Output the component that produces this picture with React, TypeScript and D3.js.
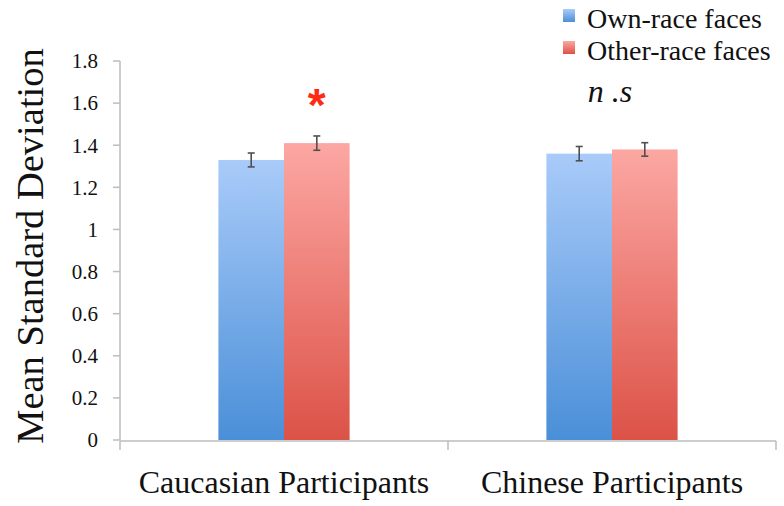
import React from "react";
import * as d3 from "d3";

const categories = ["Caucasian Participants", "Chinese Participants"];
const seriesNames = ["Own-race faces", "Other-race faces"];
const ownRace = [1.33, 1.36];
const otherRace = [1.41, 1.38];
const ownRaceErr = [0.033, 0.034];
const otherRaceErr = [0.034, 0.032];
const significance = ["*", "n .s"];
const yTicks = [0, 0.2, 0.4, 0.6, 0.8, 1, 1.2, 1.4, 1.6, 1.8];

const W = 784;
const H = 506;
const plot = { left: 120, right: 776, top: 61, bottom: 440 };

const serif = { fontFamily: '"Liberation Serif"' };
const sans = { fontFamily: '"Liberation Sans"' };

export default function App() {
  const x = d3
    .scaleBand<string>()
    .domain(categories)
    .range([plot.left, plot.right])
    .paddingInner(0.6)
    .paddingOuter(0.3);
  const inner = d3
    .scaleBand<number>()
    .domain([0, 1])
    .range([0, x.bandwidth()]);
  const y = d3.scaleLinear().domain([0, 1.8]).range([plot.bottom, plot.top]);

  const series = [
    { values: ownRace, errs: ownRaceErr, fill: "url(#gradBlue)" },
    { values: otherRace, errs: otherRaceErr, fill: "url(#gradRed)" },
  ];

  const step = (plot.right - plot.left) / categories.length;
  const xTickPositions = d3.range(categories.length + 1).map((i) => plot.left + i * step);
  const axisColor = "#bdbdbd";

  return (
    <svg
      width={W}
      height={H}
      style={{ position: "absolute", left: 0, top: 0, background: "#fff" }}
    >
      <defs>
        <linearGradient id="gradBlue" x1="0" y1="0" x2="0" y2="1">
          <stop offset="0%" stopColor="#a9cbf9" />
          <stop offset="100%" stopColor="#4a8fd8" />
        </linearGradient>
        <linearGradient id="gradRed" x1="0" y1="0" x2="0" y2="1">
          <stop offset="0%" stopColor="#fca7a3" />
          <stop offset="100%" stopColor="#dc5247" />
        </linearGradient>
      </defs>

      {/* y axis */}
      <line x1={plot.left} x2={plot.left} y1={y(1.8)} y2={plot.bottom} stroke={axisColor} strokeWidth={1.5} />
      {yTicks.map((t) => (
        <g key={t}>
          <line x1={plot.left - 7} x2={plot.left} y1={y(t)} y2={y(t)} stroke={axisColor} strokeWidth={1.5} />
          <text
            x={98}
            y={y(t)}
            dy="0.35em"
            textAnchor="end"
            style={serif}
            fontSize={21}
            fill="#111"
          >
            {d3.format("")(t)}
          </text>
        </g>
      ))}

      {/* bars */}
      {series.map((s, si) =>
        categories.map((c, ci) => {
          const bx = (x(c) as number) + (inner(si) as number);
          const bw = inner.bandwidth();
          const v = s.values[ci];
          const e = s.errs[ci];
          const cx = bx + bw / 2;
          return (
            <g key={`${si}-${ci}`}>
              <rect x={bx} y={y(v)} width={bw} height={plot.bottom - y(v)} fill={s.fill} />
              <g stroke="#505050" strokeWidth={1.6}>
                <line x1={cx} x2={cx} y1={y(v + e)} y2={y(v - e)} />
                <line x1={cx - 3.5} x2={cx + 3.5} y1={y(v + e)} y2={y(v + e)} />
                <line x1={cx - 3.5} x2={cx + 3.5} y1={y(v - e)} y2={y(v - e)} />
              </g>
            </g>
          );
        })
      )}

      {/* x axis */}
      <line x1={plot.left} x2={plot.right} y1={plot.bottom + 1} y2={plot.bottom + 1} stroke={axisColor} strokeWidth={1.5} />
      {xTickPositions.map((p, i) => (
        <line key={i} x1={p} x2={p} y1={plot.bottom + 1} y2={plot.bottom + 10} stroke={axisColor} strokeWidth={1.5} />
      ))}
      {categories.map((c) => (
        <text
          key={c}
          x={(x(c) as number) + x.bandwidth() / 2}
          y={493}
          textAnchor="middle"
          style={serif}
          fontSize={32}
          fill="#111"
        >
          {c}
        </text>
      ))}

      {/* significance markers */}
      <text
        x={(x(categories[0]) as number) + (inner(1) as number) + inner.bandwidth() / 2}
        y={121}
        textAnchor="middle"
        style={sans}
        fontWeight="bold"
        fontSize={46}
        fill="#ff2a12"
      >
        {significance[0]}
      </text>
      <text
        x={(x(categories[1]) as number) + x.bandwidth() / 2 - 2}
        y={102}
        textAnchor="middle"
        style={serif}
        fontStyle="italic"
        fontSize={32}
        fill="#111"
      >
        {significance[1]}
      </text>

      {/* y axis title */}
      <text
        transform={`translate(43, 246) rotate(-90)`}
        textAnchor="middle"
        style={serif}
        fontSize={38.5}
        fill="#111"
      >
        Mean Standard Deviation
      </text>

      {/* legend */}
      {seriesNames.map((n, i) => (
        <g key={n} transform={`translate(563, ${9 + i * 32})`}>
          <rect x={0} y={0} width={12} height={13} fill={i === 0 ? "url(#gradBlue)" : "url(#gradRed)"} />
          <text x={24} y={19} style={serif} fontSize={28} fill="#111">
            {n}
          </text>
        </g>
      ))}
    </svg>
  );
}
